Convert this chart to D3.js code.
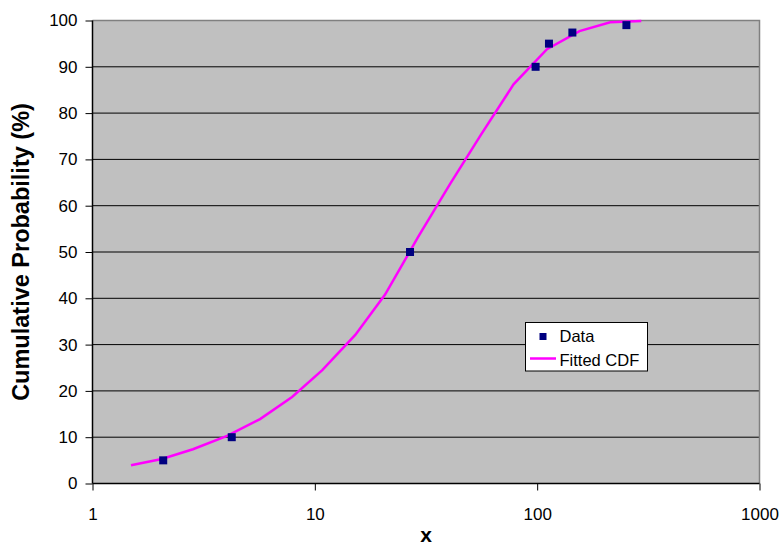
<!DOCTYPE html>
<html><head><meta charset="utf-8">
<script src="https://cdn.jsdelivr.net/npm/d3@7"></script>
<style>body{margin:0;background:#fff}svg{display:block;font-family:"Liberation Sans",Arial,sans-serif}</style>
</head><body>
<svg id="c" width="782" height="546"></svg>
<script>
// Observed data points
const dataX = [2.08, 4.23, 26.8, 98.4, 113, 144, 252];
const dataY = [5, 10, 50, 90, 95, 97.4, 99];
// Fitted CDF curve vertices
const fitX = [1.49, 2.05, 2.83, 4.03, 5.67, 7.9, 10.8, 15.2, 20.7, 29.2, 40.6, 56, 78.3, 110.7, 155, 213, 294];
const fitY = [3.95, 5.3, 7.4, 10.3, 13.9, 18.7, 24.5, 32.1, 40.8, 53.3, 64.7, 75.4, 86.2, 93.8, 97.7, 99.6, 99.9];
const xTicks = [1, 10, 100, 1000];
const yTicks = [0, 10, 20, 30, 40, 50, 60, 70, 80, 90, 100];
const legendLabels = ["Data", "Fitted CDF"];

const svg = d3.select("#c");
const L = 92.5, R = 759.5, T = 20.5, B = 483.5;
const x = d3.scaleLog().domain([1, 1000]).range([L, R]);
const y = d3.scaleLinear().domain([0, 100]).range([B, T]);

svg.append("rect").attr("x", L).attr("y", T).attr("width", R - L).attr("height", B - T).attr("fill", "#c0c0c0");

// gridlines
svg.append("g").selectAll("line").data(yTicks.filter(d => d > 0 && d < 100)).join("line")
  .attr("x1", L).attr("x2", R).attr("y1", d => y(d)).attr("y2", d => y(d))
  .attr("stroke", "#000").attr("stroke-width", 1);

// top & right border
svg.append("path").attr("d", `M${L},${T}H${R}V${B}`).attr("fill", "none").attr("stroke", "#808080").attr("stroke-width", 1.5);

// axes
const yAxis = d3.axisLeft(y).tickValues(yTicks).tickSize(7).tickPadding(8).tickFormat(d3.format("d"));
const gy = svg.append("g").attr("transform", `translate(${L},0)`).call(yAxis);
const xAxis = d3.axisBottom(x).tickValues(xTicks).tickSize(7).tickPadding(17).tickFormat(d3.format("d"));
const gx = svg.append("g").attr("transform", `translate(0,${B})`).call(xAxis);
[gy, gx].forEach(g => {
  g.selectAll("path.domain").attr("stroke", "#000").attr("stroke-width", 1.5);
  g.selectAll("line").attr("stroke", "#000");
  g.selectAll("text").attr("font-size", 17).attr("fill", "#000").attr("font-family", "Liberation Sans, Arial, sans-serif");
});
gy.selectAll("path.domain").attr("d", `M0,${T}V${B}`);
gx.selectAll("path.domain").attr("d", `M${L},0H${R}`);

// fitted line
const pts = fitX.map((v, i) => [v, fitY[i]]);
svg.append("path").datum(pts)
  .attr("d", d3.line().x(d => x(d[0])).y(d => y(d[1])))
  .attr("fill", "none").attr("stroke", "#ff00ff").attr("stroke-width", 2.5);

// data markers
svg.append("g").selectAll("rect").data(dataX.map((v, i) => [v, dataY[i]])).join("rect")
  .attr("x", d => x(d[0]) - 4).attr("y", d => y(d[1]) - 4).attr("width", 8).attr("height", 8)
  .attr("fill", "#000080");

// axis titles
svg.append("text").attr("transform", `translate(29,252) rotate(-90)`)
  .attr("text-anchor", "middle").attr("font-weight", "bold").attr("font-size", 23.5).text("Cumulative Probability (%)");
svg.append("text").attr("x", 426).attr("y", 542).attr("text-anchor", "middle")
  .attr("font-weight", "bold").attr("font-size", 21).text("x");

// legend
const lg = svg.append("g");
lg.append("rect").attr("x", 525.5).attr("y", 322.5).attr("width", 122).attr("height", 48.5)
  .attr("fill", "#fff").attr("stroke", "#000").attr("stroke-width", 1);
lg.append("rect").attr("x", 539.5).attr("y", 333).attr("width", 7).attr("height", 7).attr("fill", "#000080");
lg.append("line").attr("x1", 530).attr("x2", 556).attr("y1", 358.5).attr("y2", 358.5).attr("stroke", "#ff00ff").attr("stroke-width", 2.5);
lg.selectAll("text").data(legendLabels).join("text")
  .attr("x", 559.5).attr("y", (d, i) => 342 + i * 23.5).attr("font-size", 16.5).text(d => d);
</script>
</body></html>
